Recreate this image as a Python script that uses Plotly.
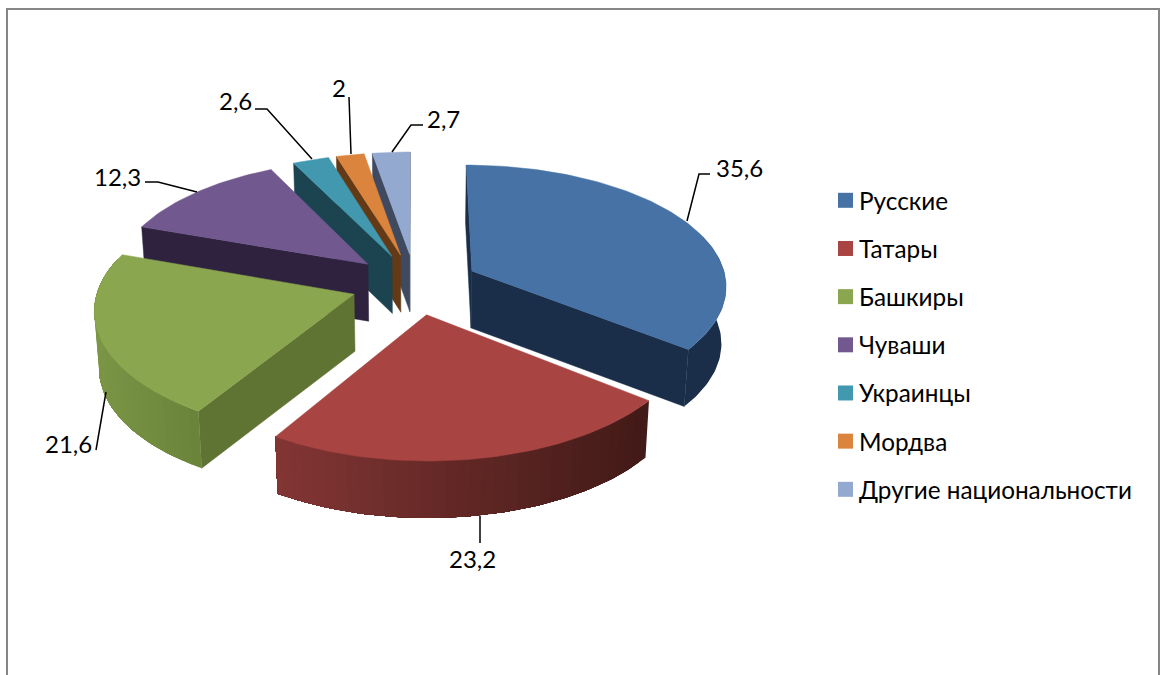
import math
import plotly.graph_objects as go

categories = ["Русские", "Татары", "Башкиры", "Чуваши", "Украинцы", "Мордва", "Другие национальности"]
values = [35.6, 23.2, 21.6, 12.3, 2.6, 2.0, 2.7]
value_labels = ["35,6", "23,2", "21,6", "12,3", "2,6", "2", "2,7"]

top_colors = ["#4672A6", "#A84543", "#8AA64E", "#71588F", "#4198AF", "#DB843D", "#93A9CF"]
edge_colors = ["#1B2E49", "#4A1C19", "#5F7333", "#2E223F", "#1B4350", "#643A16", "#3F4A60"]
wall_left = ["#1B2E49", "#833634", "#7B9646", "#2E223F", "#1B4350", "#643A16", "#3F4A60"]
wall_right = ["#1B2E49", "#421A17", "#6A843A", "#2E223F", "#1B4350", "#643A16", "#3F4A60"]
draw_order = [6, 5, 4, 3, 2, 0, 1]

CX, CY, R, PULL, RATIO, KX, KY, DEPTH, SHRINK = 415, 284, 255, 64, 0.475, 0.11, 0.1176, 57, 0.985
FONT = "Lato"
TEXT = "#000000"


def project(X, Y, low=False):
    sx = 1 / (1 - KX * Y / R)
    sy = 1 / (1 - KY * Y / R)
    x = CX + sx * X
    y = CY + sy * RATIO * Y
    if low:
        x = CX + (x - CX) * SHRINK
        y += DEPTH
    return x, y


def hexmix(a, b, t):
    pa = [int(a[i:i + 2], 16) for i in (1, 3, 5)]
    pb = [int(b[i:i + 2], 16) for i in (1, 3, 5)]
    return "#%02X%02X%02X" % tuple(round(p + (q - p) * t) for p, q in zip(pa, pb))


def poly(pts, color, width=0.5):
    return go.Scatter(
        x=[p[0] for p in pts] + [pts[0][0]], y=[p[1] for p in pts] + [pts[0][1]],
        mode="lines", fill="toself", fillcolor=color, line=dict(color=color, width=width),
        hoverinfo="skip", showlegend=False,
    )


fig = go.Figure()
total = sum(values)
starts, acc = [], 0.0
for v in values:
    starts.append(acc)
    acc += v

for i in draw_order:
    a0 = starts[i] / total * 2 * math.pi
    a1 = (starts[i] + values[i]) / total * 2 * math.pi
    mid = (a0 + a1) / 2
    ox, oy = PULL * math.sin(mid), -PULL * math.cos(mid)
    n = max(6, int(values[i] * 3))
    angles = [a0 + (a1 - a0) * j / n for j in range(n + 1)]
    plane = [(ox + R * math.sin(t), oy - R * math.cos(t)) for t in angles]
    apex = project(ox, oy)
    apex_low = project(ox, oy, True)
    rim = [project(*p) for p in plane]
    rim_low = [project(*p, True) for p in plane]
    inner = rim[n // 2]
    for edge_top, edge_low in ((rim[0], rim_low[0]), (rim[-1], rim_low[-1])):
        ex, ey = edge_top[0] - apex[0], edge_top[1] - apex[1]
        cross_in = ex * (inner[1] - apex[1]) - ey * (inner[0] - apex[0])
        if ex * cross_in < 0:
            fig.add_trace(poly([apex, edge_top, edge_low, apex_low], edge_colors[i]))
    # outer wall: each colour band is painted from its start to the far end of the wall,
    # in angular order, so neighbouring bands overlap and leave no seam; it runs a little
    # behind the widest point, where the top face covers it, so the silhouette stays smooth
    front = [j for j in range(n + 1) if plane[j][1] - oy > -0.3 * R]
    if len(front) > 1:
        xs = [rim[j][0] for j in front]
        lo, hi = min(xs), max(xs)
        step = len(front) if wall_left[i] == wall_right[i] else 2
        for b in range(0, len(front) - 1, step):
            idx = front[b:]
            t = (rim[idx[0]][0] - lo) / max(hi - lo, 1)
            pts = [rim[j] for j in idx] + [rim_low[j] for j in reversed(idx)]
            fig.add_trace(poly(pts, hexmix(wall_left[i], wall_right[i], t), 0))
    fig.add_trace(poly([apex] + rim, top_colors[i]))

LEG_SWATCH_X, LEG_TEXT_X, LEG_Y0, LEG_STEP = 845.5, 859, 200.3, 48.17
for k, (name, color) in enumerate(zip(categories, top_colors)):
    fig.add_trace(go.Scatter(
        x=[LEG_SWATCH_X], y=[LEG_Y0 + k * LEG_STEP], mode="markers", name=name,
        marker=dict(symbol="square", size=15, color=color), hoverinfo="skip", showlegend=False,
    ))

leaders = [
    [(687, 221), (699, 174), (710, 174)],
    [(480, 516), (480, 543)],
    [(106, 392), (96, 450)],
    [(197, 192), (158, 182), (145, 182)],
    [(312, 159), (267, 109), (255, 109)],
    [(351, 154), (349, 97)],
    [(392, 152), (411, 125), (423, 125)],
]
label_centers = [(739, 167), (472, 558), (68, 443), (117, 176), (235, 100), (339, 87), (443, 118)]

shapes = [dict(type="path", path="M 7 675 L 7 9 L 1159 9 L 1159 675",
               line=dict(color="#868686", width=2), layer="below")]
for pts in leaders:
    d = "M " + " L ".join(f"{x} {y}" for x, y in pts)
    shapes.append(dict(type="path", path=d, line=dict(color="#000000", width=1.5)))

annotations = [
    dict(x=p[0], y=p[1], text=t, showarrow=False, xanchor="center", yanchor="middle",
         font=dict(family=FONT, size=24, color=TEXT))
    for p, t in zip(label_centers, value_labels)
]
annotations += [
    dict(x=LEG_TEXT_X, y=LEG_Y0 + k * LEG_STEP, text=name, showarrow=False, xanchor="left",
         yanchor="middle", xshift=-2, font=dict(family=FONT, size=24.3, color=TEXT))
    for k, name in enumerate(categories)
]

fig.update_layout(
    width=1166, height=675, autosize=False,
    margin=dict(l=0, r=0, t=0, b=0, pad=0),
    paper_bgcolor="#FFFFFF", plot_bgcolor="#FFFFFF",
    xaxis=dict(range=[0, 1166], visible=False, fixedrange=True),
    yaxis=dict(range=[675, 0], visible=False, fixedrange=True),
    shapes=shapes, annotations=annotations,
    showlegend=False,
    hovermode=False,
)
fig.write_html("out.html", config={"displayModeBar": False},
               post_script="document.body.style.margin='0';document.documentElement.style.overflow='hidden';")
